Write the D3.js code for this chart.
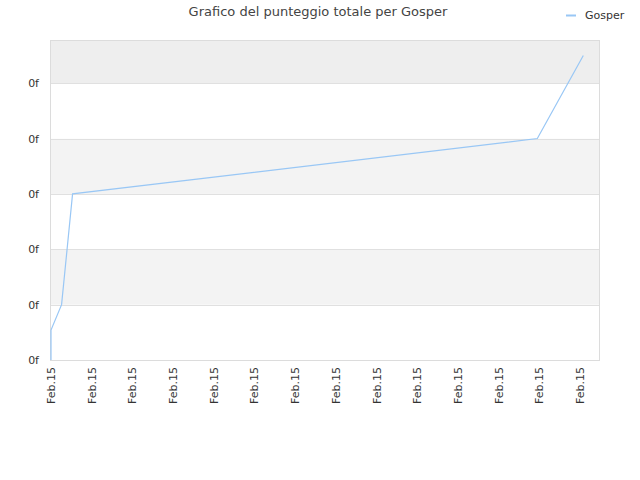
<!doctype html>
<html>
  <head>
    <meta charset="utf-8">
    <title>Grafico del punteggio totale per Gosper</title>
    <script src="https://cdnjs.cloudflare.com/ajax/libs/d3/7.8.5/d3.min.js"></script>
    <style>
      body { margin: 0; background: #fff; }
      text { font-family: "DejaVu Sans", sans-serif; fill: #333; }
    </style>
  </head>
  <body>
    <div id="chart"></div>
    <script>
      // data (x in tick steps, y in grid steps)
      const series = 'Gosper';
      const xValues = [0, 0, 0.26, 0.53, 11.95, 13.08];
      const yValues = [0, 0.54, 1.0, 3.0, 4.0, 5.5];
      const xTickLabels = ['Feb.15','Feb.15','Feb.15','Feb.15','Feb.15','Feb.15','Feb.15',
                           'Feb.15','Feb.15','Feb.15','Feb.15','Feb.15','Feb.15','Feb.15'];
      const yTickLabels = ['0f','0f','0f','0f','0f','0f'];

      const width = 640, height = 480;
      const svg = d3.select('#chart').append('svg')
        .attr('width', width).attr('height', height);

      const plotLeft = 51, plotRight = 600, plotTop = 40, plotBottom = 360;
      const x = d3.scaleLinear().domain([0, 13.49]).range([plotLeft, plotRight]);
      const y = d3.scaleLinear().domain([0, 5.78]).range([plotBottom, plotTop]);

      // background bands
      const bands = d3.range(0, 6).map(i => ({ y0: i, y1: Math.min(i + 1, 5.78) }));
      svg.selectAll('rect.band')
        .data(bands)
        .join('rect')
        .attr('class', 'band')
        .attr('x', plotLeft)
        .attr('width', plotRight - plotLeft)
        .attr('y', d => y(d.y1))
        .attr('height', d => y(d.y0) - y(d.y1))
        .attr('fill', (d, i) => i === 5 ? '#eeeeee' : (i % 2 ? '#f3f3f3' : '#ffffff'));

      // grid lines
      svg.selectAll('line.grid')
        .data(d3.range(1, 6))
        .join('line')
        .attr('x1', plotLeft).attr('x2', plotRight)
        .attr('y1', d => Math.round(y(d)) + 0.5)
        .attr('y2', d => Math.round(y(d)) + 0.5)
        .attr('stroke', '#e0e0e0');

      // frame
      svg.append('rect')
        .attr('x', plotLeft - 0.5).attr('y', plotTop + 0.5)
        .attr('width', plotRight - plotLeft).attr('height', plotBottom - plotTop)
        .attr('fill', 'none').attr('stroke', '#dcdcdc');

      // y axis labels
      svg.selectAll('text.ylab')
        .data(yTickLabels)
        .join('text')
        .attr('class', 'ylab')
        .attr('x', 39)
        .attr('y', (d, i) => y(i) + 4)
        .attr('text-anchor', 'end')
        .style('font-size', '11px')
        .text(d => d);

      // x axis labels
      svg.selectAll('text.xlab')
        .data(xTickLabels)
        .join('text')
        .attr('class', 'xlab')
        .attr('transform', (d, i) => `translate(${x(i) + 4},${plotBottom + 7}) rotate(-90)`)
        .attr('text-anchor', 'end')
        .style('font-size', '11px')
        .text(d => d);

      // the line
      const pts = xValues.map((v, i) => [v, yValues[i]]);
      svg.append('path')
        .datum(pts)
        .attr('fill', 'none')
        .attr('stroke', '#99c7f5')
        .attr('stroke-width', 1.2)
        .attr('d', d3.line().x(d => x(d[0])).y(d => y(d[1])));

      // title
      svg.append('text')
        .attr('x', 318).attr('y', 16)
        .attr('text-anchor', 'middle')
        .style('font-size', '13px')
        .style('fill', '#444')
        .text('Grafico del punteggio totale per Gosper');

      // legend
      svg.append('line')
        .attr('x1', 566).attr('x2', 576)
        .attr('y1', 15.5).attr('y2', 15.5)
        .attr('stroke', '#99c7f5').attr('stroke-width', 2);
      svg.append('text')
        .attr('x', 585).attr('y', 19)
        .style('font-size', '11px')
        .text(series);
    </script>
  </body>
</html>
